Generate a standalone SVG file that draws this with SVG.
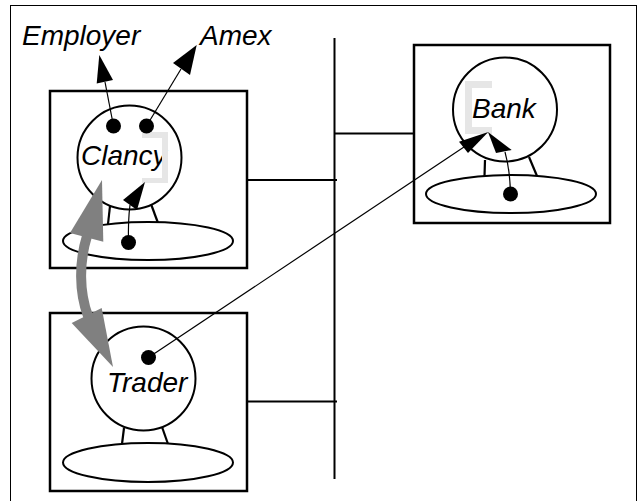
<svg xmlns="http://www.w3.org/2000/svg" width="640" height="501" viewBox="0 0 640 501">
<style>
.frame{fill:none;stroke:#000;stroke-width:1}
.box{fill:#fff;stroke:#000;stroke-width:2.5}
.body{fill:#fff;stroke:#000;stroke-width:2}
.leg{stroke:#000;stroke-width:2.2;fill:none}
.wire{stroke:#000;stroke-width:2;fill:none}
.thin{stroke:#000;stroke-width:1.2;fill:none}
.head{fill:#000;stroke:none}
.dot{fill:#000}
.gshade{fill:#e6e6e6}
.gray{fill:#808080;stroke:none}
.gshaft{fill:none;stroke:#808080;stroke-width:10}
.lbl{font-family:"Liberation Sans",Arial,sans-serif;font-style:italic;font-size:28px;fill:#000}
</style>
<rect class="frame" x="10.5" y="5.5" width="626" height="496"/>

<g id="connectors">
  <line class="wire" x1="334.5" y1="38" x2="334.5" y2="479"/>
  <line class="wire" x1="247" y1="180" x2="337" y2="180"/>
  <line class="wire" x1="334" y1="133.5" x2="414" y2="133.5"/>
  <line class="wire" x1="247" y1="401.5" x2="337" y2="401.5"/>
</g>

<g id="clancy">
  <rect class="box" x="50" y="91" width="197" height="177"/>
  <line class="leg" x1="110" y1="206" x2="108" y2="224"/>
  <line class="leg" x1="151" y1="204" x2="158" y2="223"/>
  <ellipse class="body" cx="148" cy="241" rx="85" ry="19"/>
  <circle class="body" cx="129.5" cy="157.5" r="52"/>
  <text class="lbl" x="81" y="165">Clancy</text>
  <path class="gshade" d="M142,132 H168 V183 H142 V178 H162 V138 H142 Z"/>
  <circle class="dot" cx="113.5" cy="126" r="7.5"/>
  <circle class="dot" cx="146.5" cy="126" r="7.5"/>
  <circle class="dot" cx="128.5" cy="242.5" r="7.5"/>
</g>

<g id="bank">
  <rect class="box" x="414" y="45" width="196" height="178"/>
  <line class="leg" x1="485" y1="160" x2="484.5" y2="176"/>
  <line class="leg" x1="529" y1="157" x2="537" y2="176"/>
  <ellipse class="body" cx="511" cy="194" rx="85" ry="19"/>
  <circle class="body" cx="505" cy="109.5" r="52"/>
  <path class="gshade" d="M465,81 H492 V88 H472 V127 H492 V134 H465 Z"/>
  <text class="lbl" x="472" y="118">Bank</text>
  <circle class="dot" cx="510.5" cy="194" r="7.5"/>
</g>

<g id="trader">
  <rect class="box" x="50" y="313" width="197" height="178"/>
  <line class="leg" x1="124" y1="428" x2="122" y2="444"/>
  <line class="leg" x1="162" y1="427" x2="168" y2="444"/>
  <ellipse class="body" cx="148" cy="462.5" rx="85" ry="19.5"/>
  <circle class="body" cx="143.5" cy="378.5" r="52"/>
  <text class="lbl" x="107" y="392">Trader</text>
  <circle class="dot" cx="148.5" cy="357.5" r="7.5"/>
</g>

<g id="employer">
  <text class="lbl" x="22" y="45">Employer</text>
</g>
<g id="amex">
  <text class="lbl" x="200" y="45">Amex</text>
</g>

<g id="arrows">
  <line class="thin" x1="113.5" y1="126" x2="105" y2="82"/>
  <polygon class="head" points="99.3,55 96.7,83.5 113,80"/>
  <line class="thin" x1="146.5" y1="126" x2="181" y2="69"/>
  <polygon class="head" points="196.7,45 173,63 190,75"/>
  <path class="thin" d="M128.5,242.5 Q128,220 130,205"/>
  <polygon class="head" points="145,182 123,200 137,210"/>
  <path class="thin" d="M510.5,194 Q510,170 505,152"/>
  <polygon class="head" points="488,132 496,153 511.7,150"/>
  <line class="thin" x1="148.5" y1="357.5" x2="464" y2="147"/>
  <polygon class="head" points="488.3,132 459,141.7 468,153"/>
  <path class="gshaft" d="M87,236 C79,262 79,292 88,316"/>
  <polygon class="gray" points="102,180 70,233 103.3,241.7"/>
  <polygon class="gray" points="113,367 71.7,323 101.7,308"/>
</g>
</svg>
